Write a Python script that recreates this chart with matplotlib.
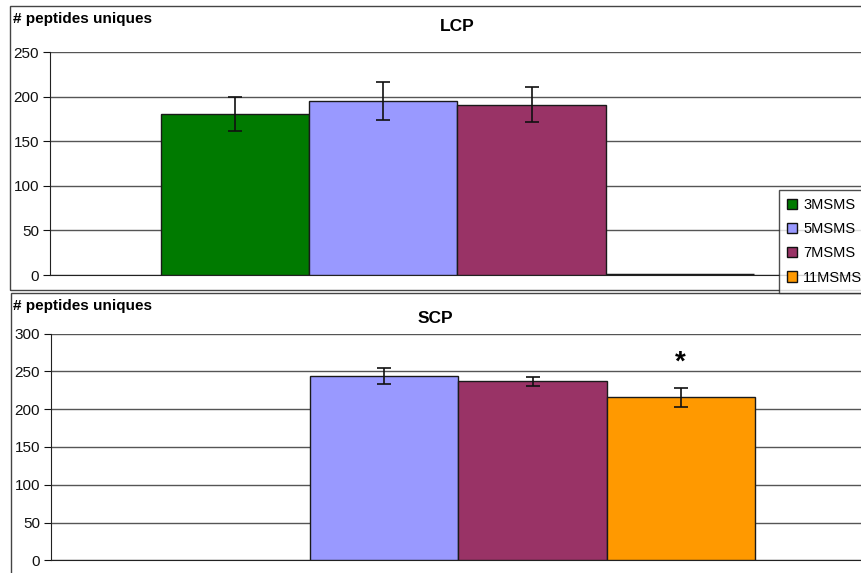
import matplotlib.pyplot as plt
from matplotlib.patches import Rectangle, Patch
import numpy as np

plt.rcParams['font.family'] = ['Liberation Sans', 'DejaVu Sans']

series = ['3MSMS', '5MSMS', '7MSMS', '11MSMS']
colors = ['#007a00', '#9999ff', '#993366', '#ff9900']

lcp_vals = [180, 195, 191, 0]
lcp_err = [19, 21, 19.5, 0]
scp_vals = [0, 244, 237, 216]
scp_err = [0, 10, 6, 12.5]

fig = plt.figure(figsize=(8.62, 5.73), dpi=100)

# chart area borders (Excel style)
fig.patches.append(Rectangle((10 / 862, 1 - 290 / 573), 1.0, 284 / 573,
                             transform=fig.transFigure, fill=False,
                             edgecolor='#444444', lw=1.0))
fig.patches.append(Rectangle((11 / 862, -0.01), 1.0, 1 - 293 / 573 + 0.01,
                             transform=fig.transFigure, fill=False,
                             edgecolor='#444444', lw=1.0))

offsets = np.array([-1.5, -0.5, 0.5, 1.5])


def draw(ax, vals, errs, ymax, title, skip_zero, tpad):
    for i in range(4):
        if skip_zero and vals[i] == 0:
            continue
        ax.bar(offsets[i], vals[i], width=1.0, color=colors[i],
               edgecolor='#1a1a1a', linewidth=1.0 if vals[i] else 2.5, zorder=3)
        if errs[i]:
            ax.errorbar(offsets[i], vals[i], yerr=errs[i], fmt='none',
                        ecolor='#111111', elinewidth=1.2, capsize=5,
                        capthick=1.2, zorder=4)
    ax.set_xlim(-2.75, 2.75)
    ax.set_ylim(0, ymax)
    ax.set_yticks(np.arange(0, ymax + 1, 50))
    ax.set_xticks([])
    ax.yaxis.grid(True, color='#555555', lw=1.0, zorder=0)
    ax.set_axisbelow(True)
    for s in ['top', 'right']:
        ax.spines[s].set_visible(False)
    ax.spines['left'].set_color('#222222')
    ax.spines['bottom'].set_color('#222222')
    ax.tick_params(axis='y', direction='out', length=5, labelsize=11,
                   colors='#111111', pad=3)
    ax.set_facecolor('none')
    ax.set_title(title, fontsize=12.5, fontweight='semibold', pad=tpad)


ax1 = fig.add_axes([50 / 862, 1 - 275 / 573, 815 / 862, 223 / 573])
draw(ax1, lcp_vals, lcp_err, 250, 'LCP', False, 15)
fig.text(13 / 862, 1 - 19 / 573, '# peptides uniques', fontsize=11,
         fontweight='bold', va='center', ha='left')

ax2 = fig.add_axes([51 / 862, 1 - 560.3 / 573, 815 / 862, 226.6 / 573])
draw(ax2, scp_vals, scp_err, 300, 'SCP', True, 8)
ax2.title.set_position((0.472, 1.0))
fig.text(13 / 862, 1 - 306 / 573, '# peptides uniques', fontsize=11,
         fontweight='bold', va='center', ha='left')
ax2.text(offsets[3], 262, '*', ha='center', va='center', fontsize=20,
         fontweight='bold')

handles = [Patch(facecolor=c, edgecolor='#111111', lw=1.0) for c in colors]
leg = fig.legend(handles, series, loc='upper left',
                 bbox_to_anchor=(779 / 862, 1 - 190 / 573),
                 fontsize=10.5, frameon=True, fancybox=False,
                 edgecolor='#222222', handlelength=0.7, handleheight=0.7,
                 handletextpad=0.4, labelspacing=0.7, borderpad=0.55,
                 borderaxespad=0)
leg.get_frame().set_linewidth(1.0)
leg.set_zorder(10)

fig.savefig('out.png', dpi=100)
